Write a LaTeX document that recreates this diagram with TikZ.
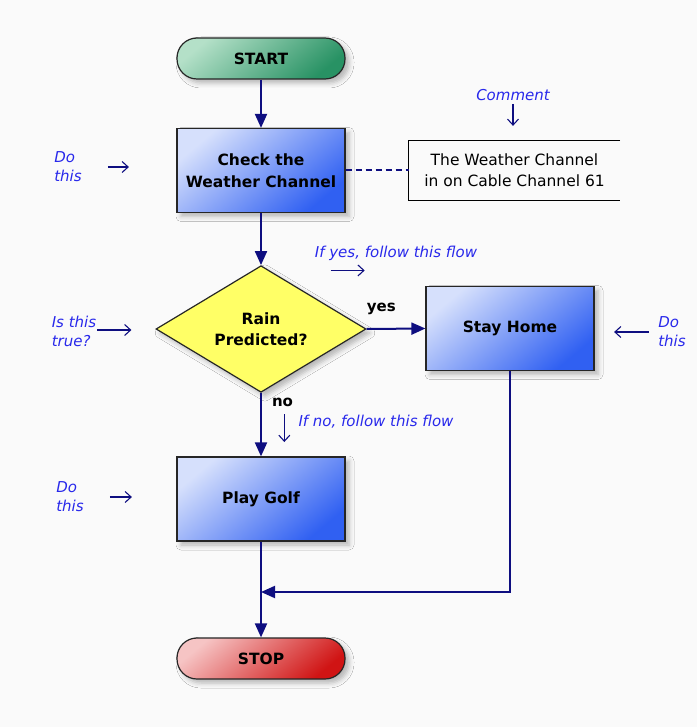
\documentclass[tikz,border=0pt]{standalone}
\usepackage{fontspec}
\setmainfont{DejaVu Sans}
\usetikzlibrary{shapes.geometric,arrows.meta,shadows.blur}

\definecolor{bgcol}{RGB}{250,250,250}
\definecolor{flowblue}{RGB}{14,14,128}
\definecolor{noteblue}{RGB}{40,40,235}
\definecolor{boxlight}{RGB}{214,224,252}
\definecolor{boxdark}{RGB}{48,96,242}
\definecolor{greenlight}{RGB}{180,224,200}
\definecolor{greendark}{RGB}{40,146,100}
\definecolor{redlight}{RGB}{246,196,196}
\definecolor{reddark}{RGB}{208,20,20}
\definecolor{rainyellow}{RGB}{255,255,102}

\begin{document}
\begin{tikzpicture}[x=1pt,y=-1pt,
        softshadow/.style={blur shadow={shadow xshift=4pt,shadow yshift=-4pt,shadow blur radius=5pt,shadow opacity=28}},
        box/.style={draw=black!85,line width=1.2pt,top color=boxlight,bottom color=boxdark,shading angle=40,
            minimum width=168pt,minimum height=84pt,inner sep=0pt,align=center,
            font=\fontsize{15.5}{21.5}\selectfont\bfseries,softshadow},
        pill/.style={box,rounded corners=20pt,minimum height=41pt},
        decision/.style={diamond,draw=black!85,line width=1.2pt,fill=rainyellow,
            minimum width=210pt,minimum height=98pt,inner sep=0pt,align=center,
            font=\fontsize{15.5}{21.5}\selectfont\bfseries,softshadow},
        cmtbox/.style={minimum width=211pt,minimum height=59pt,inner sep=0pt,align=center,
            font=\fontsize{15.5}{21}\selectfont},
        note/.style={text=noteblue,inner sep=0pt,align=left,font=\fontsize{15}{19}\selectfont\itshape},
        flow/.style={draw=flowblue,line width=2pt,-{Triangle[length=14pt,width=12pt]}},
        noteline/.style={draw=flowblue,line width=1.1pt,-{Straight Barb[length=6pt,width=11pt]}},
        flowlabel/.style={font=\fontsize{15}{18}\selectfont\bfseries,inner sep=0pt}]

    % 背景
    \fill[bgcol] (0,0) rectangle (697,727);
    \useasboundingbox (0,0) rectangle (697,727);

    % 流程框
    \node[pill,top color=greenlight,bottom color=greendark,shading angle=40] (start) at (261,58.5) {START};
    \node[box] (check) at (261,170.5) {Check the\\Weather Channel};
    \node[decision] (rain) at (261,329) {Rain\\Predicted?};
    \node[box] (home) at (510,328.5) {Stay Home};
    \node[box] (golf) at (261,499) {Play Golf};
    \node[pill,top color=redlight,bottom color=reddark,shading angle=40] (stop) at (261,658.5) {STOP};

    % 注释框 (右侧开口)
    \node[cmtbox] (cmt) at (514.5,170.5) {The Weather Channel\\in on Cable Channel 61};
    \draw[line width=1.3pt] (cmt.north east) -- (cmt.north west) -- (cmt.south west) -- (cmt.south east);
    \draw[flowblue,line width=2pt,dash pattern=on 6pt off 4pt] (check.east) -- (cmt.west);

    % 连线
    \draw[flow] (start) -- (check);
    \draw[flow] (check) -- (rain);
    \draw[flow] (rain.east) -- node[flowlabel,pos=0.25,above=13pt] {yes} (home.west);
    \draw[flow] (rain.south) -- node[flowlabel,pos=0.15,right=10pt] {no} (golf.north);
    \draw[flow] (golf) -- (stop);
    \coordinate (join) at (510,592);
    \draw[flow] (home.south) |- (golf.south |- join);

    % 蓝色说明文字
    \node[note] (comment) at (513,95) {Comment};
    \draw[noteline] ([yshift=-3pt]comment.south) -- ++(0,22);
    \node[note] (dothisa) at (68,167) {Do\\this};
    \draw[noteline] ([xshift=26pt]dothisa.east) -- ++(21,0);
    \node[note] (yesnote) at (396,253) {If yes, follow this flow};
    \draw[noteline] ([xshift=16pt,yshift=-10pt]yesnote.south west) -- ++(34,0);
    \node[note] (istrue) at (74,331) {Is this\\true?};
    \draw[noteline] ([xshift=1pt,yshift=1pt]istrue.east) -- ++(34,0);
    \node[note] (dothisb) at (672,332) {Do\\this};
    \draw[noteline] ([xshift=-9pt]dothisb.west) -- ++(-35,0);
    \node[note] (nonote) at (376,422) {If no, follow this flow};
    \draw[noteline] ([xshift=-14pt]nonote.west) ++(0,-8) -- ++(0,28);
    \node[note] (dothisc) at (70,497) {Do\\this};
    \draw[noteline] ([xshift=26pt]dothisc.east) -- ++(22,0);
\end{tikzpicture}
\end{document}
